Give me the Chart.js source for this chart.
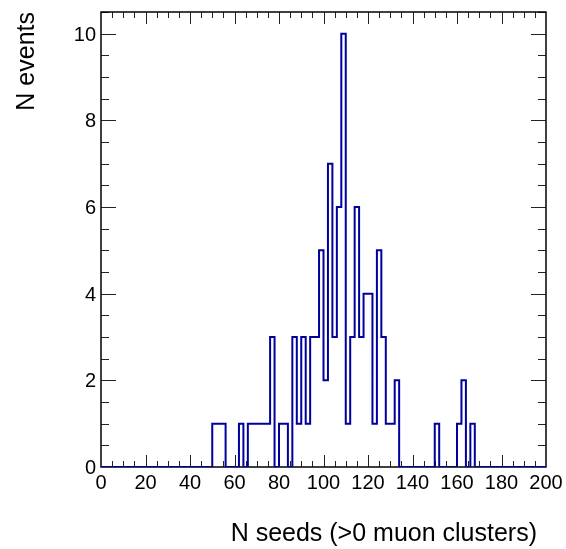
<!DOCTYPE html>
<html>
<head>
<meta charset="utf-8">
<script src="https://cdn.jsdelivr.net/npm/chart.js@4"></script>
<style>
  html, body { margin: 0; padding: 0; background: #fff; }
  canvas { display: block; }
</style>
</head>
<body>
<canvas id="histo" width="566" height="549"></canvas>
<script>
// N seeds histogram, 100 bins from 0 to 200
const binWidth = 2;
const xMin = 0;
const xMax = 200;
const counts = [
  0, 0, 0, 0, 0, 0, 0, 0, 0, 0,
  0, 0, 0, 0, 0, 0, 0, 0, 0, 0,
  0, 0, 0, 0, 0, 1, 1, 1, 0, 0,
  0, 1, 0, 1, 1, 1, 1, 1, 3, 0,
  1, 1, 0, 3, 1, 3, 1, 3, 3, 5,
  2, 7, 3, 6, 10, 1, 3, 6, 3, 4,
  4, 1, 5, 3, 1, 1, 2, 0, 0, 0,
  0, 0, 0, 0, 0, 1, 0, 0, 0, 0,
  1, 2, 0, 1, 0, 0, 0, 0, 0, 0,
  0, 0, 0, 0, 0, 0, 0, 0, 0, 0
];
const xTickLabels = ["0", "20", "40", "60", "80", "100", "120", "140", "160", "180", "200"];
const yTickLabels = ["0", "2", "4", "6", "8", "10"];
const xTitle = "N seeds (>0 muon clusters)";
const yTitle = "N events";

const FONT = '"Liberation Sans", Arial, Helvetica, sans-serif';

// step outline: each bin's low edge, plus the upper edge of the last bin
const points = counts.map((c, i) => ({ x: xMin + i * binWidth, y: c }));
points.push({ x: xMax, y: counts[counts.length - 1] });

// ROOT-like frame with inward ticks on all four sides
const rootFrame = {
  id: "rootFrame",
  beforeDatasetsDraw(chart) {
    const { ctx, chartArea: a } = chart;
    const xs = chart.scales.x, ys = chart.scales.y;
    ctx.save();
    ctx.strokeStyle = "#222";
    ctx.lineWidth = 1;
    ctx.beginPath();
    for (let v = 5; v < 200; v += 5) {
      const px = Math.round(xs.getPixelForValue(v)) + 0.5;
      const len = v % 20 === 0 ? 12 : 6;
      ctx.moveTo(px, a.bottom); ctx.lineTo(px, a.bottom - len);
      ctx.moveTo(px, a.top); ctx.lineTo(px, a.top + len);
    }
    for (let v = 0.5; v <= 10.5; v += 0.5) {
      const py = Math.round(ys.getPixelForValue(v)) + 0.5;
      const len = v % 2 === 0 ? 15 : 8;
      ctx.moveTo(a.left, py); ctx.lineTo(a.left + len, py);
      ctx.moveTo(a.right, py); ctx.lineTo(a.right - len, py);
    }
    ctx.stroke();
    ctx.strokeStyle = "#000";
    ctx.lineWidth = 1.5;
    ctx.strokeRect(a.left, a.top, a.right - a.left, a.bottom - a.top);
    ctx.restore();
  },
  afterDraw(chart) {
    const { ctx } = chart;
    const xs = chart.scales.x, ys = chart.scales.y;
    ctx.save();
    ctx.fillStyle = "#000";
    ctx.font = "20px " + FONT;
    ctx.textBaseline = "alphabetic";
    ctx.textAlign = "center";
    xTickLabels.forEach(t => {
      ctx.fillText(t, xs.getPixelForValue(Number(t)), 489);
    });
    ctx.textAlign = "right";
    yTickLabels.forEach(t => {
      ctx.fillText(t, 96, ys.getPixelForValue(Number(t)) + 7);
    });
    ctx.font = "25px " + FONT;
    ctx.fillText(xTitle, 537, 541);
    ctx.translate(33.5, 12);
    ctx.rotate(-Math.PI / 2);
    ctx.textAlign = "right";
    ctx.fillText(yTitle, 0, 0);
    ctx.restore();
  }
};

new Chart(document.getElementById("histo").getContext("2d"), {
  type: "line",
  data: {
    datasets: [{
      data: points,
      stepped: true,
      borderColor: "#00009c",
      borderWidth: 2,
      pointRadius: 0,
      fill: false
    }]
  },
  options: {
    responsive: false,
    animation: false,
    layout: { padding: { left: 101, right: 20, top: 12, bottom: 82 } },
    plugins: { legend: { display: false }, tooltip: { enabled: false } },
    scales: {
      x: { type: "linear", min: xMin, max: xMax, display: false },
      y: { min: 0, max: 10.5, display: false }
    }
  },
  plugins: [rootFrame]
});
</script>
</body>
</html>
